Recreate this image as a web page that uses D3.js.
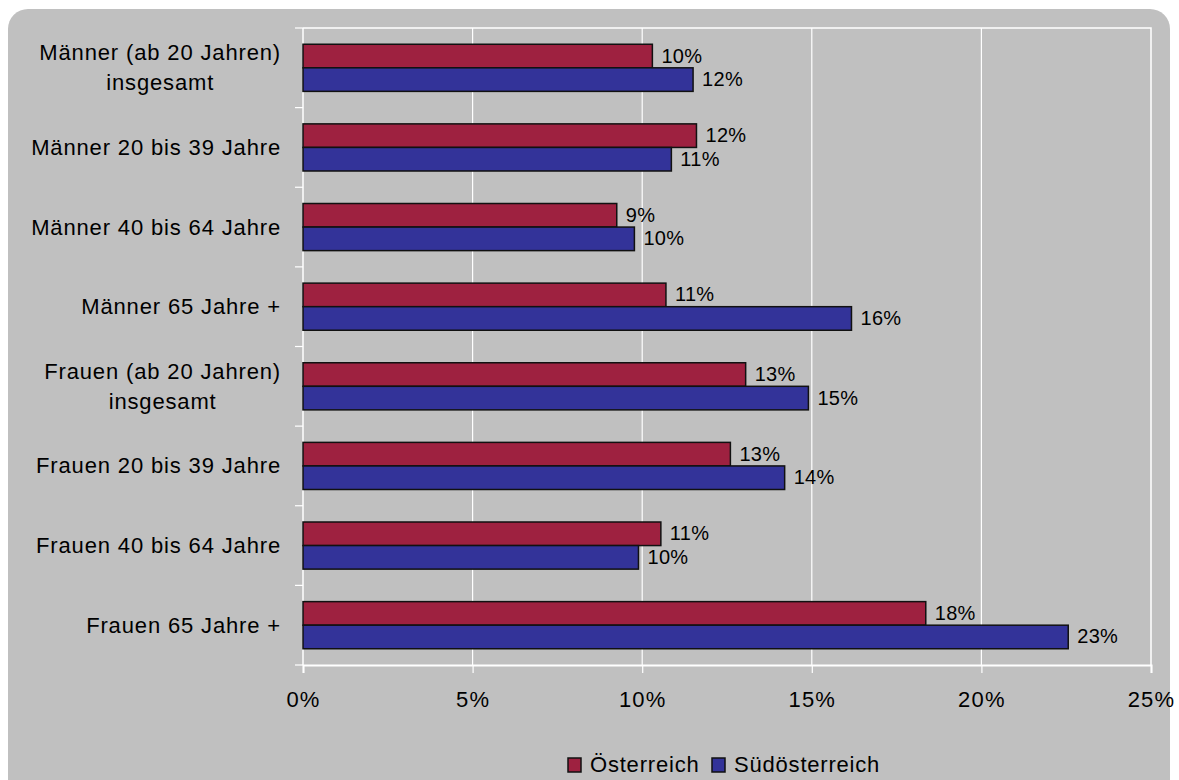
<!DOCTYPE html>
<html>
<head>
<meta charset="utf-8">
<script src="https://cdn.jsdelivr.net/npm/d3@7"></script>
<style>
  body { margin: 0; background: #ffffff; }
  svg { display: block; }
  text { font-family: "Liberation Sans", Arial, sans-serif; fill: #000; }
</style>
</head>
<body>
<svg id="chart" width="1179" height="780"></svg>
<script>
// categories (each label may hold several lines)
const categories = [
  ["Männer (ab 20 Jahren)", "insgesamt"],
  ["Männer 20 bis 39 Jahre"],
  ["Männer 40 bis 64 Jahre"],
  ["Männer 65 Jahre +"],
  ["Frauen (ab 20 Jahren)", "insgesamt"],
  ["Frauen 20 bis 39 Jahre"],
  ["Frauen 40 bis 64 Jahre"],
  ["Frauen 65 Jahre +"]
];
const seriesNames = ["Österreich", "Südösterreich"];
const oesterreich = [10.3, 11.6, 9.25, 10.7, 13.05, 12.6, 10.55, 18.36];
const suedoesterreich = [11.5, 10.86, 9.77, 16.17, 14.9, 14.2, 9.89, 22.56];
const xTicks = [0, 5, 10, 15, 20, 25];

const colors = ["#9e2140", "#333399"];

const svg = d3.select("#chart");

// rounded grey chart area
svg.append("rect")
  .attr("x", 8).attr("y", 9)
  .attr("width", 1162).attr("height", 790)
  .attr("rx", 20).attr("ry", 20)
  .attr("fill", "#c0c0c0");

const plot = { left: 303, right: 1151, top: 28, bottom: 665 };

const x = d3.scaleLinear()
  .domain([0, 25])
  .range([plot.left, plot.right]);

const y = d3.scaleBand()
  .domain(d3.range(categories.length))
  .range([plot.top, plot.bottom])
  .padding(0);

const ySub = d3.scaleBand()
  .domain([0, 1])
  .range([0, y.bandwidth()])
  .paddingInner(0)
  .paddingOuter(0.69);

// vertical gridlines
svg.append("g")
  .selectAll("line")
  .data(xTicks.slice(1, -1))
  .join("line")
  .attr("x1", d => x(d)).attr("x2", d => x(d))
  .attr("y1", plot.top).attr("y2", plot.bottom)
  .attr("stroke", "#ffffff")
  .attr("stroke-width", 1.2);

// plot border (top/right)
svg.append("path")
  .attr("d", `M${plot.left},${plot.top}H${plot.right}V${plot.bottom}`)
  .attr("fill", "none")
  .attr("stroke", "#ffffff")
  .attr("stroke-width", 1.5);

// x axis
const xAxis = svg.append("g")
  .attr("transform", `translate(0,${plot.bottom})`)
  .call(d3.axisBottom(x).tickValues(xTicks).tickFormat(d => d + "%").tickSize(8).tickPadding(18));
xAxis.select(".domain").attr("stroke", "#ffffff").attr("stroke-width", 2);
xAxis.selectAll(".tick line").attr("stroke", "#ffffff").attr("stroke-width", 1.2);
xAxis.selectAll(".tick text")
  .attr("font-size", 22)
  .attr("letter-spacing", 1.2)
  .style("font-family", "'Liberation Sans', Arial, sans-serif")
  .attr("fill", "#000");

// y axis line and ticks at band boundaries
const yAxis = svg.append("g");
yAxis.append("line")
  .attr("x1", plot.left).attr("x2", plot.left)
  .attr("y1", plot.top).attr("y2", plot.bottom)
  .attr("stroke", "#ffffff").attr("stroke-width", 1.5);
yAxis.selectAll("line.tk")
  .data(d3.range(categories.length + 1))
  .join("line")
  .attr("class", "tk")
  .attr("x1", plot.left - 8).attr("x2", plot.left)
  .attr("y1", i => plot.top + i * y.step())
  .attr("y2", i => plot.top + i * y.step())
  .attr("stroke", "#ffffff").attr("stroke-width", 1.2);

// category labels (multi-line centred, right edge fixed)
const labelRight = 281;
const lineH = 30;
categories.forEach((lines, i) => {
  const cy = y(i) + y.bandwidth() / 2;
  const t = svg.append("text")
    .attr("font-size", 22)
    .attr("letter-spacing", 0.85)
    .attr("text-anchor", "middle");
  const spans = lines.map((ln, k) => t.append("tspan")
    .attr("y", cy + 7.5 + (k - (lines.length - 1) / 2) * lineH)
    .text(ln));
  const w = d3.max(spans, s => s.node().getComputedTextLength());
  spans.forEach(s => s.attr("x", labelRight - w / 2));
});

// bars
const series = [oesterreich, suedoesterreich];
series.forEach((vals, s) => {
  const g = svg.append("g");
  g.selectAll("rect")
    .data(vals)
    .join("rect")
    .attr("x", x(0))
    .attr("y", (d, i) => y(i) + ySub(s))
    .attr("width", d => x(d) - x(0))
    .attr("height", ySub.bandwidth())
    .attr("fill", colors[s])
    .attr("stroke", "#111")
    .attr("stroke-width", 1.5);
  g.selectAll("text")
    .data(vals)
    .join("text")
    .attr("x", d => x(d) + 9)
    .attr("y", (d, i) => y(i) + ySub(s) + ySub.bandwidth() / 2 + 6.5)
    .attr("font-size", 20)
    .attr("letter-spacing", 0.3)
    .text(d => Math.round(d) + "%");
});

// legend
const legendX = [568, 712];
const legend = svg.append("g");
seriesNames.forEach((name, s) => {
  legend.append("rect")
    .attr("x", legendX[s]).attr("y", 758)
    .attr("width", 13).attr("height", 14)
    .attr("fill", colors[s])
    .attr("stroke", "#111").attr("stroke-width", 1.5);
  legend.append("text")
    .attr("x", legendX[s] + 22).attr("y", 772)
    .attr("font-size", 22)
    .attr("letter-spacing", 0.8)
    .text(name);
});
</script>
</body>
</html>
